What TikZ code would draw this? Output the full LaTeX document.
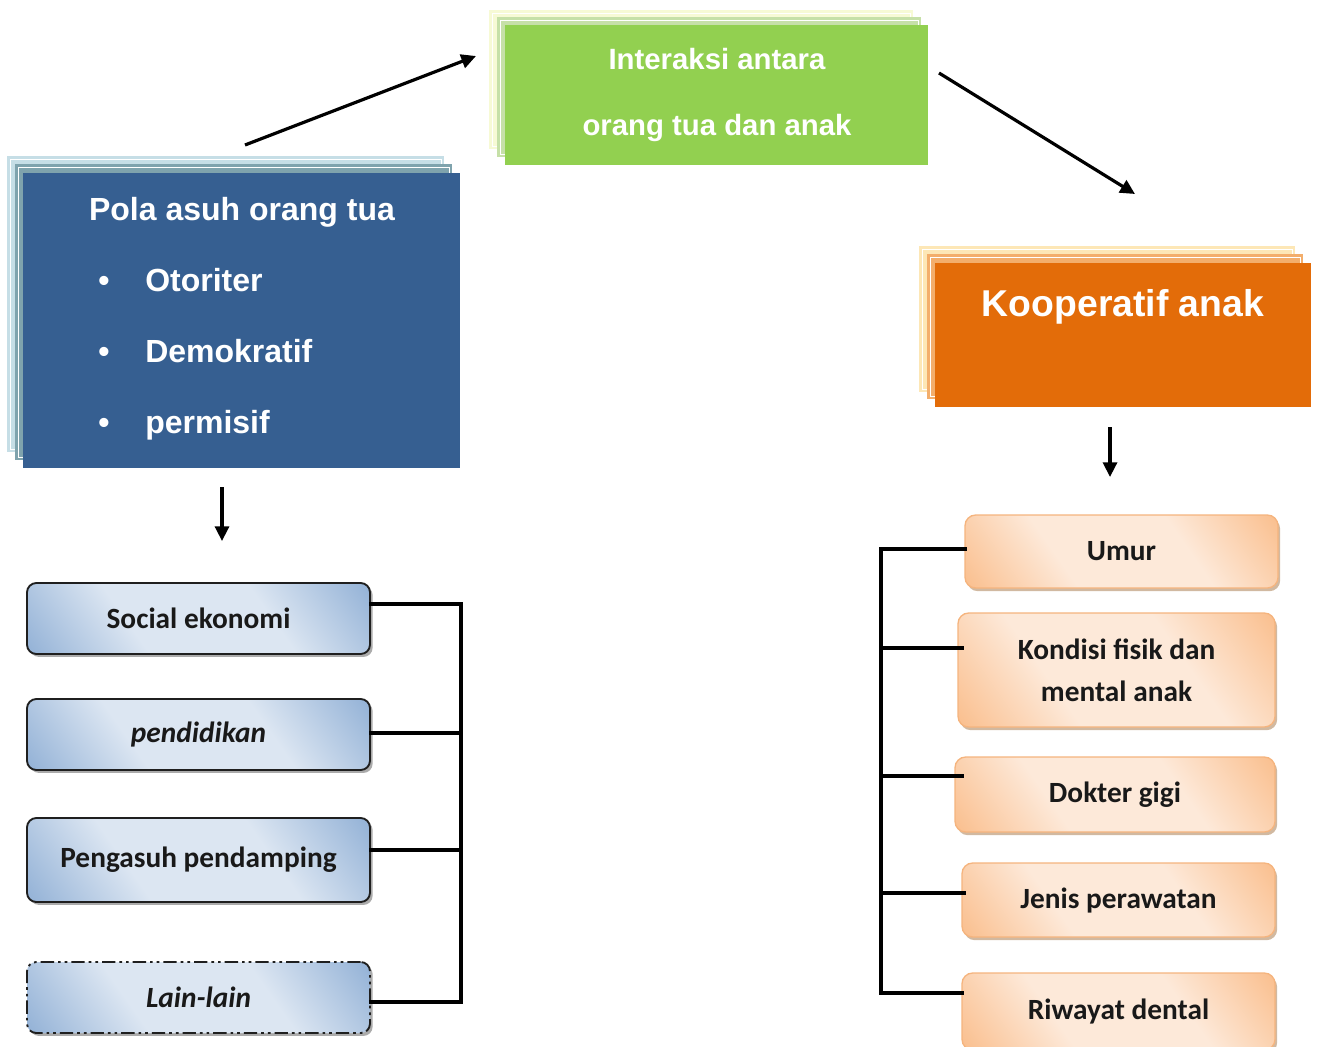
\documentclass[tikz,border=0pt]{standalone}
\usepackage{fontspec}
\setmainfont{Liberation Sans}
\newfontfamily\carl{Carlito}
\usetikzlibrary{arrows.meta,shadows,calc}
\definecolor{greenF}{HTML}{92D050}
\definecolor{greenB}{HTML}{C6E0A8}
\definecolor{greenA}{HTML}{F7FAD5}
\definecolor{blueF}{HTML}{365F91}
\definecolor{blueB}{HTML}{7FA3AD}
\definecolor{blueA}{HTML}{C6DEE6}
\definecolor{orangeF}{HTML}{E36C09}
\definecolor{orangeB}{HTML}{F3AE6C}
\definecolor{orangeA}{HTML}{FDE7B6}
\definecolor{lbdark}{HTML}{95B3D7}
\definecolor{lblight}{HTML}{DCE6F2}
\definecolor{rbdark}{HTML}{FAC090}
\definecolor{rblight}{HTML}{FDE9D9}
\definecolor{rbborder}{HTML}{F5B47E}
\pgfdeclareverticalshading{lbsh}{100bp}{color(0bp)=(lbdark); color(16bp)=(lbdark); color(37bp)=(lblight); color(63bp)=(lblight); color(84bp)=(lbdark); color(100bp)=(lbdark)}
\pgfdeclareverticalshading{rbsh}{100bp}{color(0bp)=(rbdark); color(16bp)=(rbdark); color(37bp)=(rblight); color(63bp)=(rblight); color(84bp)=(rbdark); color(100bp)=(rbdark)}
\begin{document}
\begin{tikzpicture}[x=0.75pt,y=-0.75pt,
  layer/.style={draw=none,inner sep=0pt,outer sep=0pt},
  inline/.style={draw=white,line width=0.6pt},
  bigtxt/.style={text=white,inner sep=0pt,font=\bfseries\fontsize{24}{28}\selectfont},
  midtxt/.style={text=white,inner sep=0pt,font=\bfseries\fontsize{22}{26}\selectfont},
  hugetxt/.style={text=white,inner sep=0pt,font=\bfseries\fontsize{28}{32}\selectfont},
  arr/.style={line width=2.4pt,-{Triangle[length=11pt,width=10.5pt]}},
  bus/.style={line width=2.3pt,line join=miter,line cap=rect},
  lbox/.style={draw=black!88,line width=1.4pt,rounded corners=7pt,
    minimum width=343*0.75pt,align=center,text=black!90,
    font=\carl\bfseries\fontsize{22}{26}\selectfont,
    shading=lbsh,shading angle=-55,
    drop shadow={shadow xshift=2pt,shadow yshift=-2.2pt,fill=black!60,opacity=0.55}},
  rbox/.style={draw=rbborder,line width=1pt,rounded corners=8pt,align=center,text=black!90,
    font=\carl\bfseries\fontsize{22}{31.5}\selectfont,
    shading=rbsh,shading angle=-55,
    drop shadow={shadow xshift=1.6pt,shadow yshift=-2.4pt,fill=brown!70!gray,opacity=0.55}}]
\useasboundingbox (0,0) rectangle (1319,1046);
\clip (0,0) rectangle (1319,1046);

% ---------- green box (top) ----------
\fill[greenA] (489,10) rectangle (913,149);
\draw[inline] (492,13) rectangle (910,146);
\fill[greenB] (497,17) rectangle (921,157);
\draw[inline] (500,20) rectangle (918,154);
\node[layer,fill=greenF,minimum width=423*0.75pt,minimum height=140*0.75pt] (inter) at (716.5,95) {};
\node[midtxt,anchor=base] (inter1) at (717,69) {Interaksi antara};
\node[midtxt,anchor=base] (inter2) at (717,135) {orang tua dan anak};

% ---------- blue box (left) ----------
\fill[blueA] (7,156) rectangle (444,452);
\draw[inline] (10,159) rectangle (441,449);
\fill[blueB] (15,164) rectangle (452,460);
\draw[inline] (18,167) rectangle (449,457);
\node[layer,fill=blueF,minimum width=437*0.75pt,minimum height=295*0.75pt] (pola) at (241.5,320.5) {};
\node[bigtxt,anchor=base] (polat) at (242,220) {Pola asuh orang tua};
\node[bigtxt,anchor=base] (b1) at (104,291) {\textbullet};
\node[bigtxt,anchor=base west] (i1) at (145,291) {Otoriter};
\node[bigtxt,anchor=base] (b2) at (104,362) {\textbullet};
\node[bigtxt,anchor=base west] (i2) at (145,362) {Demokratif};
\node[bigtxt,anchor=base] (b3) at (104,433) {\textbullet};
\node[bigtxt,anchor=base west] (i3) at (145,433) {permisif};

% ---------- orange box (right) ----------
\fill[orangeA] (919,246) rectangle (1295,392);
\draw[inline] (922,249) rectangle (1292,389);
\fill[orangeB] (927,254) rectangle (1303,399);
\draw[inline] (930,257) rectangle (1300,396);
\node[layer,fill=orangeF,minimum width=376*0.75pt,minimum height=144*0.75pt] (koop) at (1123,335) {};
\node[hugetxt,anchor=base] (koopt) at (1123,316) {Kooperatif anak};

% ---------- arrows ----------
\coordinate (a1s) at ($(pola.north)+(3.5,-28)$);
\coordinate (a1e) at ($(inter.west)+(-29,-39)$);
\draw[arr] (a1s) -- (a1e);
\coordinate (a2s) at ($(inter.east)+(11,-22)$);
\coordinate (a2e) at ($(koop.north)+(12,-69)$);
\draw[arr] (a2s) -- (a2e);
\coordinate (a3s) at ($(pola.south)+(-19.5,19)$);
\coordinate (a3e) at ($(pola.south)+(-19.5,73)$);
\draw[arr] (a3s) -- (a3e);
\coordinate (a4s) at ($(koop.south)+(-13,20)$);
\coordinate (a4e) at ($(koop.south)+(-13,70)$);
\draw[arr] (a4s) -- (a4e);

% ---------- left factor boxes ----------
\node[lbox,minimum height=71*0.75pt] (soc) at (198.5,618.5) {Social ekonomi};
\node[lbox,minimum height=71*0.75pt] (pend) at (198.5,734.5) {\itshape pendidikan};
\node[lbox,minimum height=84*0.75pt] (peng) at (198.5,860) {Pengasuh pendamping};
\node[lbox,minimum height=71*0.75pt,dash pattern=on 10pt off 3pt on 2pt off 3pt on 2pt off 3pt] (lain) at (198.5,997.5) {\itshape Lain-lain};

\coordinate (lb1) at (461,604);
\coordinate (lb2) at (461,733);
\coordinate (lb3) at (461,850);
\coordinate (lb4) at (461,1002);
\draw[bus] (soc.east |- lb1) -- (lb1) -- (lb4) -- (lain.east |- lb4);
\draw[bus] (pend.east |- lb2) -- (lb2);
\draw[bus] (peng.east |- lb3) -- (lb3);

% ---------- right factor boxes ----------
\node[rbox,minimum width=313*0.75pt,minimum height=73*0.75pt] (umur) at (1121.5,551.5) {Umur};
\node[rbox,minimum width=317*0.75pt,minimum height=114*0.75pt] (kond) at (1116.5,670) {Kondisi fisik dan\\mental anak};
\node[rbox,minimum width=320*0.75pt,minimum height=75*0.75pt] (dok) at (1115,794.5) {Dokter gigi};
\node[rbox,minimum width=313*0.75pt,minimum height=74*0.75pt] (jenis) at (1118.5,900) {Jenis perawatan};
\node[rbox,minimum width=313*0.75pt,minimum height=77*0.75pt] (riw) at (1118.5,1011.5) {Riwayat dental};

\coordinate (rb1) at (881,549);
\coordinate (rb2) at (881,648);
\coordinate (rb3) at (881,776);
\coordinate (rb4) at (881,893);
\coordinate (rb5) at (881,993);
\draw[bus] ($(umur.west |- rb1)+(1,0)$) -- (rb1) -- (rb5) -- ($(riw.west |- rb5)+(1,0)$);
\draw[bus] ($(kond.west |- rb2)+(5,0)$) -- (rb2);
\draw[bus] ($(dok.west |- rb3)+(8,0)$) -- (rb3);
\draw[bus] ($(jenis.west |- rb4)+(3,0)$) -- (rb4);
\end{tikzpicture}
\end{document}
